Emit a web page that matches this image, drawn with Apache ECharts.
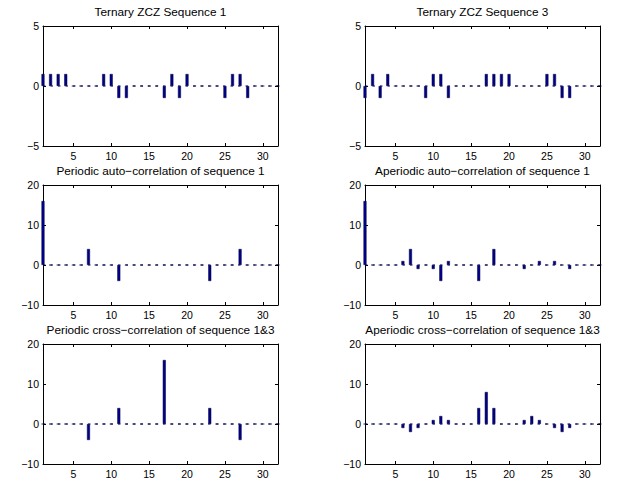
<!DOCTYPE html>
<html>
<head>
<meta charset="utf-8">
<script src="https://cdn.jsdelivr.net/npm/echarts@6/dist/echarts.min.js"></script>
<style>
html,body{margin:0;padding:0;background:#fff;}
#chart{width:619px;height:482px;}
</style>
</head>
<body>
<div id="chart"></div>
<script>
// ---- data ----
const lags = [1,2,3,4,5,6,7,8,9,10,11,12,13,14,15,16,17,18,19,20,21,22,23,24,25,26,27,28,29,30,31,32];
const seq1 = [1,1,1,1,0,0,0,0,1,1,-1,-1,0,0,0,0,-1,1,-1,1,0,0,0,0,-1,1,1,-1,0,0,0,0];
const seq3 = [-1,1,-1,1,0,0,0,0,-1,1,1,-1,0,0,0,0,1,1,1,1,0,0,0,0,1,1,-1,-1,0,0,0,0];
const periodicAuto1 = [16,0,0,0,0,0,4,0,0,0,-4,0,0,0,0,0,0,0,0,0,0,0,-4,0,0,0,4,0,0,0,0,0];
const aperiodicAuto1 = [16,0,0,0,0,1,4,-1,0,-1,-4,1,0,0,0,-4,0,4,0,0,0,-1,0,1,0,1,0,-1,0,0,0,0];
const periodicCross13 = [0,0,0,0,0,0,-4,0,0,0,4,0,0,0,0,0,16,0,0,0,0,0,4,0,0,0,-4,0,0,0,0,0];
const aperiodicCross13 = [0,0,0,0,0,-1,-2,-1,0,1,2,1,0,0,0,4,8,4,0,0,0,1,2,1,0,-1,-2,-1,0,0,0,0];
const titles = [
  "Ternary ZCZ Sequence 1",
  "Ternary ZCZ Sequence 3",
  "Periodic auto\u2212correlation of sequence 1",
  "Aperiodic auto\u2212correlation of sequence 1",
  "Periodic cross\u2212correlation of sequence 1&3",
  "Aperiodic cross\u2212correlation of sequence 1&3"
];
const xTicks = [5,10,15,20,25,30];
const yTicksSmall = [-5,0,5];
const yTicksLarge = [-10,0,10,20];

// ---- layout ----
const panelSeries = [seq1, seq3, periodicAuto1, aperiodicAuto1, periodicCross13, aperiodicCross13];
const colLeft = [43, 365];
const rowTop = [26, 185, 344];
const gw = 235, gh = 120;
const FONT = "'Liberation Sans', Arial, Helvetica, sans-serif";
const minusFmt = v => String(v).replace('-', '\u2212');

const grid = [], xAxis = [], yAxis = [], series = [], graphic = [];
panelSeries.forEach((vals, i) => {
  const col = i % 2, row = Math.floor(i / 2);
  const left = colLeft[col], top = rowTop[row];
  grid.push({left: left, top: top, width: gw, height: gh, containLabel: false});
  const yt = row === 0 ? yTicksSmall : yTicksLarge;
  const ymin = yt[0], ymax = yt[yt.length - 1];
  const common = {
    type: 'value', gridIndex: i, min: 1, max: 32,
    axisLine: {show: true, onZero: false, lineStyle: {color: '#000', width: 1}},
    axisTick: {show: true, inside: true, length: 3, customValues: xTicks, lineStyle: {color: '#000'}},
    splitLine: {show: false}
  };
  xAxis.push(Object.assign({}, common, {
    position: 'bottom',
    axisLabel: {show: true, customValues: xTicks, color: '#000', fontSize: 10.5, fontFamily: FONT, margin: 4}
  }));
  xAxis.push(Object.assign({}, common, {
    position: 'top',
    axisLabel: {show: false}
  }));
  const ycommon = {
    type: 'value', gridIndex: i, min: ymin, max: ymax,
    axisLine: {show: true, onZero: false, lineStyle: {color: '#000', width: 1}},
    axisTick: {show: true, inside: true, length: 3, customValues: yt, lineStyle: {color: '#000'}},
    splitLine: {show: false}
  };
  yAxis.push(Object.assign({}, ycommon, {
    position: 'left',
    axisLabel: {show: true, customValues: yt, color: '#000', fontSize: 10.5, fontFamily: FONT, margin: 4, formatter: minusFmt}
  }));
  yAxis.push(Object.assign({}, ycommon, {
    position: 'right',
    axisLabel: {show: false}
  }));
  series.push({
    type: 'line',
    xAxisIndex: 2 * i, yAxisIndex: 2 * i,
    data: [[lags[0], 0], [lags[lags.length - 1], 0]],
    symbol: 'none', silent: true, z: 1,
    lineStyle: {color: '#000070', width: 1, type: [2.5, 5]}
  });
  series.push({
    type: 'bar',
    xAxisIndex: 2 * i, yAxisIndex: 2 * i,
    data: lags.map((x, k) => [x, vals[k]]),
    barWidth: 3, clip: true, z: 2,
    itemStyle: {color: '#00008F', borderColor: '#000030', borderWidth: 0.5},
    silent: true
  });
  graphic.push({
    type: 'text', left: left + gw / 2, top: top - 20,
    style: {text: titles[i], fill: '#000', font: '11.8px ' + FONT, textAlign: 'center'}
  });
});

const chart = echarts.init(document.getElementById('chart'), null, {renderer: 'svg'});
chart.setOption({
  animation: false,
  backgroundColor: '#fff',
  grid: grid, xAxis: xAxis, yAxis: yAxis, series: series,
  graphic: graphic.map(g => ({type: 'text', x: g.left, y: g.top, style: g.style}))
});
</script>
</body>
</html>
